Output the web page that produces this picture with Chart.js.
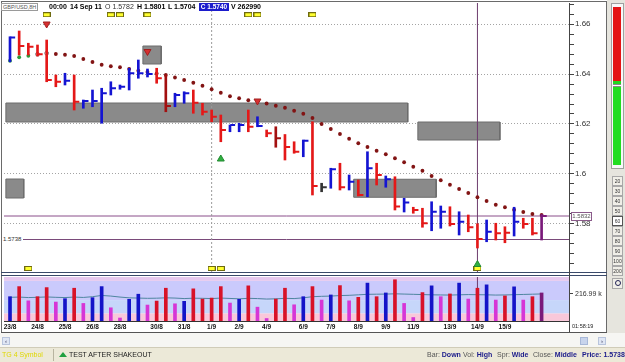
<!DOCTYPE html>
<html>
<head>
<meta charset="utf-8">
<script src="https://cdn.jsdelivr.net/npm/chart.js@4.4.1/dist/chart.umd.min.js"></script>
<style>
html,body{margin:0;padding:0;background:#fff;}
body{width:625px;height:362px;position:relative;overflow:hidden;font-family:"Liberation Sans",Arial,sans-serif;}
.a{position:absolute;white-space:nowrap;}
canvas{position:absolute;left:0;}
.hd{top:2px;font-size:7px;font-weight:bold;line-height:10px;color:#000;}
.btn{position:absolute;left:612px;width:11px;height:10px;border:1px solid #a8a8a8;background:#f0efe8;font-size:5px;line-height:8px;text-align:center;color:#333;box-sizing:border-box;}
.st{top:348px;font-size:7px;line-height:14px;}
.lb{color:#555;}
.vl{color:#1a1a8a;font-weight:bold;}
</style>
</head>
<body>
<canvas id="pc" width="610" height="273" style="top:0"></canvas>
<canvas id="vc" width="610" height="61" style="top:272px"></canvas>

<!-- frame lines -->
<div class="a" style="left:1px;top:1px;width:606px;height:1px;background:#6a6a6a"></div>
<div class="a" style="left:1px;top:1px;width:1px;height:332px;background:#6a6a6a"></div>
<div class="a" style="left:606px;top:1px;width:1px;height:332px;background:#6a6a6a"></div>
<div class="a" style="left:1px;top:272px;width:606px;height:1px;background:#3a4a6a"></div>
<div class="a" style="left:1px;top:275px;width:606px;height:1px;background:#3a4a6a"></div>
<div class="a" style="left:569px;top:272px;width:1px;height:61px;background:#444"></div>
<div class="a" style="left:1px;top:332px;width:606px;height:1px;background:#555"></div>

<!-- header -->
<div class="a" style="left:1px;top:3px;width:37px;height:8px;border:1px solid #9a9a9a;background:#fff;font-size:5.5px;line-height:6px;color:#555;box-sizing:border-box;padding-left:1px">GBP/USD,8H</div>
<div class="a hd" style="left:49px">00:00</div>
<div class="a hd" style="left:70px">14 Sep 11</div>
<div class="a hd" style="left:105px;font-weight:normal;color:#333">O 1.5782</div>
<div class="a hd" style="left:137px">H 1.5801</div>
<div class="a hd" style="left:168px">L 1.5704</div>
<div class="a" style="left:199px;top:3px;width:30px;height:8px;background:#1c1ccc;color:#fff;font-size:6.5px;font-weight:bold;line-height:8px;text-align:center">C 1.5740</div>
<div class="a hd" style="left:231px">V 262990</div>

<!-- level labels -->
<div class="a" style="left:3px;top:235px;font-size:6px;line-height:8px;color:#333;background:#fff;padding-right:2px">1.5738</div>
<div class="a" style="left:571px;top:212px;width:21px;height:9px;border:1px solid #8a5a8a;background:#fff;font-size:6px;line-height:7px;color:#555;text-align:center;box-sizing:border-box">1.5832</div>

<!-- right column texts -->
<div class="a" style="left:572px;top:322px;font-size:5.5px;line-height:8px;color:#222">01:58:19</div>

<!-- widget -->
<div class="a" style="left:607px;top:0;width:18px;height:333px;background:#e6e5de"></div>
<div class="a" style="left:611px;top:3px;width:13px;height:166px;border:1px solid #a0a0a0;background:#f8f8f8;box-sizing:border-box"></div>
<div class="a" style="left:613px;top:7px;width:8px;height:74px;background:#e41414"></div>
<div class="a" style="left:613px;top:81px;width:8px;height:3px;background:#20d820"></div>
<div class="a" style="left:613px;top:84px;width:8px;height:1px;background:#fff;border-top:1px solid #888;border-bottom:1px solid #888"></div>
<div class="a" style="left:613px;top:87px;width:8px;height:78px;background:#22dd22"></div>
<div class="btn" style="top:176px">20</div>
<div class="btn" style="top:186px">30</div>
<div class="btn" style="top:196px">40</div>
<div class="btn" style="top:206px">50</div>
<div class="btn" style="top:216px;background:#fff;border-color:#555">60</div>
<div class="btn" style="top:226px">70</div>
<div class="btn" style="top:236px">80</div>
<div class="btn" style="top:246px">90</div>
<div class="btn" style="top:256px">100</div>
<div class="btn" style="top:266px">200</div>
<div class="btn" style="top:278px;height:11px"></div>
<div class="a" style="left:615px;top:280px;width:4px;height:4px;border:1px solid #225;border-radius:50%"></div>

<!-- scroll row -->
<div class="a" style="left:0;top:333px;width:625px;height:14px;background:#f6f6f3"></div>
<div class="a" style="left:2px;top:337px;width:8px;height:8px;background:#dfe6f4;border:1px solid #b8c4dc;box-sizing:border-box;font-size:6px;line-height:6px;text-align:center;color:#335">&lsaquo;</div>
<div class="a" style="left:580px;top:337px;width:8px;height:8px;background:#c8d4ec;border:1px solid #a8b8d8;box-sizing:border-box"></div>
<div class="a" style="left:598px;top:337px;width:8px;height:8px;background:#dfe6f4;border:1px solid #b8c4dc;box-sizing:border-box;font-size:6px;line-height:6px;text-align:center;color:#335">&rsaquo;</div>

<!-- status bar -->
<div class="a" style="left:0;top:347px;width:625px;height:15px;background:#ece9d8;border-top:1px solid #d0ccb8;box-sizing:border-box"></div>
<div class="a st" style="left:2px;color:#e0d800">TG 4 Symbol</div>
<div class="a" style="left:53px;top:349px;width:1px;height:12px;background:#b8b4a0"></div>
<div class="a" style="left:59px;top:352px;width:0;height:0;border-left:4px solid transparent;border-right:4px solid transparent;border-bottom:5px solid #20a040"></div>
<div class="a st" style="left:69px;color:#222">TEST AFTER SHAKEOUT</div>
<div class="a st" style="left:427px"><span class="lb">Bar:</span> <span class="vl">Down</span></div>
<div class="a st" style="left:463px"><span class="lb">Vol:</span> <span class="vl">High</span></div>
<div class="a st" style="left:497px"><span class="lb">Spr:</span> <span class="vl">Wide</span></div>
<div class="a st" style="left:533px"><span class="lb">Close:</span> <span class="vl">Middle</span></div>
<div class="a st" style="left:582px"><span class="vl">Price: 1.5738</span></div>

<script>
// ---------- DATA ----------
const dateLabels = ['23/8','24/8','25/8','26/8','28/8','30/8','31/8','1/9','2/9','4/9','6/9','7/9','8/9','9/9','11/9','13/9','14/9','15/9'];
const dateBars   = [0,3,6,9,12,16,19,22,25,28,32,35,38,41,44,48,51,54];

const highs = [
 1.6549,1.6572,1.6523,1.6516,1.6536,1.6396,1.6403,1.6396,1.6296,1.6336,
 1.6343,1.6369,1.6356,1.6423,1.6456,1.6420,1.6423,1.6396,1.6323,1.6329,
 1.6336,1.6283,1.6256,1.6236,1.6196,1.6203,1.6256,1.6229,1.6176,1.6189,
 1.6158,1.6129,1.6136,1.6209,1.5963,1.6023,1.6043,1.5996,1.5976,1.6089,
 1.6043,1.5992,1.5989,1.5903,1.5867,1.5863,1.5889,1.5872,1.5869,1.5849,
 1.5836,1.5801,1.5816,1.5803,1.5789,1.5867,1.5823,1.5823,1.5838];
const lows = [
 1.6449,1.6476,1.6476,1.6472,1.6369,1.6349,1.6356,1.6256,1.6263,1.6269,
 1.6203,1.6316,1.6339,1.6336,1.6383,1.6388,1.6363,1.6249,1.6269,1.6283,
 1.6243,1.6236,1.6209,1.6129,1.6169,1.6169,1.6169,1.6189,1.6149,1.6107,
 1.6056,1.6083,1.6069,1.5916,1.5929,1.5943,1.5936,1.5936,1.5912,1.5909,
 1.5956,1.5947,1.5856,1.5848,1.5843,1.5787,1.5773,1.5783,1.5792,1.5756,
 1.5769,1.5704,1.5729,1.5736,1.5725,1.5752,1.5783,1.5756,1.5736];
const closes = [
 1.6546,1.6512,1.6509,1.6479,1.6376,1.6369,1.6373,1.6289,1.6292,1.6292,
 1.6323,1.6343,1.6349,1.6403,1.6403,1.6400,1.6383,1.6272,1.6316,1.6323,
 1.6285,1.6249,1.6229,1.6176,1.6196,1.6196,1.6189,1.6192,1.6163,1.6143,
 1.6108,1.6089,1.6133,1.5952,1.5947,1.6019,1.5947,1.5969,1.5916,1.6023,
 1.5996,1.5979,1.5870,1.5886,1.5856,1.5803,1.5849,1.5849,1.5800,1.5809,
 1.5787,1.5740,1.5769,1.5763,1.5765,1.5809,1.5800,1.5763,1.5832];
// U up, D down, K down (dark), N neutral, P current
const barDir = [
 'U','D','D','D','D','D','U','D','U','U',
 'U','U','U','U','U','U','D','K','U','U',
 'D','D','D','D','U','U','D','U','D','K',
 'D','D','U','D','N','U','D','U','D','U',
 'D','U','D','U','D','D','U','U','D','U',
 'D','D','U','D','D','U','D','D','P'];
const trailStop = [
 1.6453,1.6467,1.6473,1.6479,1.6483,1.6480,1.6477,1.6472,1.6460,1.6448,
 1.6437,1.6431,1.6427,1.6420,1.6413,1.6408,1.6402,1.6396,1.6386,1.6376,
 1.6365,1.6353,1.6339,1.6325,1.6311,1.6303,1.6295,null,1.6282,1.6273,
 1.6265,1.6253,1.6241,1.6224,1.6200,1.6180,1.6160,1.6141,1.6123,1.6108,
 1.6093,1.6079,1.6063,1.6047,1.6029,1.6013,1.5992,1.5975,1.5957,1.5940,
 1.5924,1.5907,1.5892,1.5877,1.5867,1.5857,1.5848,1.5840,1.5836];
// volume in thousands
const volumes = [
 195,276,162,195,268,152,179,263,141,187,
 276,106,24,174,215,128,160,263,138,158,
 258,176,184,276,144,174,282,111,20,176,
 263,130,195,276,168,209,284,162,190,304,
 195,225,331,141,28,228,282,195,217,304,
 176,263,290,168,201,274,168,195,225];
// U up, D down, M low volume, P current
const volType = [
 'U','D','M','D','D','M','U','D','M','U',
 'U','M','M','U','U','M','D','D','M','U',
 'D','D','D','D','M','U','D','M','M','D',
 'D','M','U','D','M','U','D','M','D','U',
 'D','U','D','M','M','D','U','M','D','U',
 'M','D','U','M','D','U','M','D','P'];
const volAvg = [
 190,192,188,190,193,190,188,192,189,195,
 205,200,192,186,184,182,183,186,184,180,
 183,182,180,184,181,178,182,180,176,178,
 182,180,186,195,198,200,204,206,210,214,
 215,216,218,216,214,212,210,209,208,210,
 212,211,210,208,209,211,213,215,217];
const volRef = 216.99;
const volBands = [ [0,62], [62,168], [168,322], [322,400] ];

const zoneStart = [-0.45, 14.5, 44.5, 37.5, -0.45];
const zoneEnd   = [43.4, 16.5, 53.45, 46.5, 1.5];
const zoneHigh  = [1.6284, 1.6512, 1.6208, 1.5979, 1.5980];
const zoneLow   = [1.6208, 1.6440, 1.6136, 1.5907, 1.5904];

const upSignalBars = [23, 51];       const upSignalPrices = [1.6060, 1.5638];
const downSignalBars = [4, 15, 27];  const downSignalPrices = [1.6600, 1.6490, 1.6292];
const topEventBars = [4, 11, 12, 15, 26, 27, 33];  const topEventPrice = 1.6637;
const bottomEventBars = [2, 22, 23, 51];           const bottomEventPrice = 1.5622;

const cursorBar = 51, markBar = 22;
const lastPrice = 1.5832, refPrice = 1.5738;

const priceMajorTicks = [1.58, 1.60, 1.62, 1.64, 1.66];
const priceTickLabels = ['1.58', '1.6', '1.62', '1.64', '1.66'];
const priceMin = 1.5608, priceMax = 1.6684;
const xMin = -0.655, xMax = 60.99;
const volMax = 353;

// ---------- STYLE ----------
Chart.defaults.font.family = '"Liberation Sans", Arial, sans-serif';
const priceColors = {U:'#1414d2', D:'#e41818', K:'#a31010', N:'#333333', P:'#7a1a7a'};
const volColors = {U:'#1414c8', D:'#d81228', M:'#d636d6', P:'#7a1a7a'};
const tickShift = 0.3;

function makeEventBox(){
  const c = document.createElement('canvas'); c.width = 8; c.height = 5;
  const g = c.getContext('2d');
  g.fillStyle = '#6e6a10'; g.fillRect(0,0,8,5);
  g.fillStyle = '#ffff30'; g.fillRect(1,1,6,3);
  return c;
}
const evBox = makeEventBox();

const yTicks = [];
for (let k = 1564; k <= 1668; k += 4) yTicks.push(k / 1000);
const isMajor = v => priceMajorTicks.some(m => Math.abs(m - v) < 1e-6);
const zeroPad = s => { s.paddingTop = 0; s.paddingBottom = 0; };

const datasets = [];
zoneStart.forEach((x0, k) => {
  const x1 = zoneEnd[k], hi = zoneHigh[k], lo = zoneLow[k];
  datasets.push({type:'line', data:[{x:x0,y:hi},{x:x1,y:hi},{x:x1,y:lo},{x:x0,y:lo},{x:x0,y:hi}],
    fill:'shape', backgroundColor:'#8a8a8a', borderColor:'#6c6c6c', borderWidth:1, pointRadius:0, tension:0, order:20});
});
datasets.push({type:'line', data:[{x:markBar,y:priceMin},{x:markBar,y:priceMax}], borderColor:'#9a9a9a', borderWidth:1, borderDash:[2,2], pointRadius:0, order:16});
datasets.push({type:'line', data:[{x:cursorBar,y:priceMin},{x:cursorBar,y:priceMax}], borderColor:'#6e3c6e', borderWidth:1, pointRadius:0, order:16});
datasets.push({type:'line', data:[{x:xMin,y:lastPrice},{x:xMax,y:lastPrice}], borderColor:'#8a4e8a', borderWidth:1, pointRadius:0, order:16});
datasets.push({type:'line', data:[{x:xMin,y:refPrice},{x:xMax,y:refPrice}], borderColor:'#7a4a7a', borderWidth:1, pointRadius:0, order:16});
datasets.push({type:'line', showLine:false, data: trailStop.map((v,i)=>({x:i,y:v})),
  pointRadius:1.9, borderWidth:0,
  pointBackgroundColor: trailStop.map((v,i)=> i<3 ? '#2a9a3a' : (i<5 ? '#ffffff' : '#821414')),
  pointBorderColor: trailStop.map((v,i)=> i<3 ? '#2a9a3a' : (i<5 ? '#777' : '#821414')),
  pointBorderWidth: trailStop.map((v,i)=> (i>=3 && i<5) ? 1 : 0), order:10});
datasets.push({type:'bar', data: highs.map((h,i)=>({x:i, y:[lows[i], h]})), barThickness:2, grouped:false,
  backgroundColor: barDir.map(d=>priceColors[d]), borderWidth:0, order:5});
datasets.push({type:'line', showLine:false, data: closes.map((c,i)=>({x:i+tickShift, y:c})),
  pointStyle:'line', pointRadius:2.4, pointBorderWidth:2, pointBorderColor: barDir.map(d=>priceColors[d]), order:4});
datasets.push({type:'line', showLine:false, data: upSignalBars.map((b,k)=>({x:b, y:upSignalPrices[k]})),
  pointStyle:'triangle', pointRadius:4, pointBackgroundColor:'#30b040', pointBorderColor:'#208a30', pointBorderWidth:1, order:1});
datasets.push({type:'line', showLine:false, data: downSignalBars.map((b,k)=>({x:b, y:downSignalPrices[k]})),
  pointStyle:'triangle', pointRotation:180, pointRadius:4, pointBackgroundColor:'#d83030', pointBorderColor:'#a02020', pointBorderWidth:1, order:1});
datasets.push({type:'line', showLine:false, data: topEventBars.map(b=>({x:b, y:topEventPrice})), pointStyle:evBox, pointRadius:4, order:1});
datasets.push({type:'line', showLine:false, data: bottomEventBars.map(b=>({x:b, y:bottomEventPrice})), pointStyle:evBox, pointRadius:4, order:1});

new Chart(document.getElementById('pc'), {
  type:'bar',
  data:{datasets},
  options:{
    responsive:false, animation:false, events:[],
    layout:{autoPadding:false, padding:{left:4, top:3, right:3, bottom:1}},
    plugins:{legend:{display:false}, tooltip:{enabled:false}},
    scales:{
      x:{type:'linear', min:xMin, max:xMax, display:false, offset:false},
      y:{type:'linear', position:'right', min:priceMin, max:priceMax, beginAtZero:false,
        afterBuildTicks: s => { s.ticks = yTicks.map(v=>({value:v})); },
        afterFit: s => { s.width = 38; zeroPad(s); },
        ticks:{ autoSkip:false, padding:1, color:'#333', font:{size:8, lineHeight:0.01},
          callback: v => { const k = priceMajorTicks.findIndex(m=>Math.abs(m-v)<1e-6); return k>=0 ? priceTickLabels[k] : ''; } },
        grid:{ drawOnChartArea:true, tickLength:5, lineWidth:1,
          color: c => (c.tick && isMajor(c.tick.value)) ? '#a4a4a4' : 'rgba(0,0,0,0)',
          tickColor:'#444', tickBorderDash:[] },
        border:{display:true, color:'#444', width:1, dash:[1,2]}
      }
    }
  }
});

// volume panel
const bandColors = ['#f9c8da', '#c6d6fa', '#cacafc', '#e6c8ee'];
const bandsPlugin = {
  id:'bands',
  beforeDatasetsDraw(chart){
    const {ctx, chartArea:a, scales:{y}} = chart;
    ctx.save();
    volBands.forEach((b,k)=>{
      const yt = Math.max(y.getPixelForValue(b[1]), a.top), yb = Math.min(y.getPixelForValue(b[0]), a.bottom);
      ctx.fillStyle = bandColors[k];
      ctx.fillRect(a.left, yt, a.right-a.left, yb-yt);
    });
    ctx.restore();
  }
};
new Chart(document.getElementById('vc'), {
  type:'bar',
  data:{datasets:[
    {type:'line', data:[{x:cursorBar,y:0},{x:cursorBar,y:volMax}], borderColor:'#6e3c6e', borderWidth:1, pointRadius:0, order:6},
    {type:'line', data: volAvg.map((v,i)=>({x:i,y:v})), borderColor:'#4f86a0', borderWidth:1, pointRadius:0, tension:0, order:5},
    {type:'bar', data: volumes.map((v,i)=>({x:i,y:v})), barThickness:3, grouped:false,
      backgroundColor: volType.map(t=>volColors[t]), borderWidth:0, order:1}
  ]},
  options:{
    responsive:false, animation:false, events:[],
    layout:{autoPadding:false, padding:{left:4, top:5, right:3, bottom:0}},
    plugins:{legend:{display:false}, tooltip:{enabled:false}},
    scales:{
      x:{type:'linear', min:xMin, max:xMax, offset:false,
        afterBuildTicks: s => { s.ticks = dateBars.map(v=>({value:v})); },
        afterFit: s => { s.height = 12; s.paddingLeft = 0; s.paddingRight = 0; },
        ticks:{autoSkip:false, maxRotation:0, minRotation:0, padding:2, color:'#111', font:{size:6.5, weight:'bold'},
          callback: v => { const k = dateBars.indexOf(v); return k>=0 ? dateLabels[k] : ''; }},
        grid:{display:false, drawTicks:false},
        border:{display:true, color:'#333', width:1}
      },
      y:{type:'linear', position:'right', min:0, max:volMax,
        afterBuildTicks: s => { s.ticks = [{value:volRef}]; },
        afterFit: s => { s.width = 38; zeroPad(s); },
        ticks:{autoSkip:false, padding:2, color:'#333', font:{size:7}, callback: v => v.toFixed(2) + ' k'},
        grid:{drawOnChartArea:false, tickLength:4, tickColor:'#444'},
        border:{display:true, color:'#444', width:1}
      }
    }
  },
  plugins:[bandsPlugin]
});
</script>
</body>
</html>
